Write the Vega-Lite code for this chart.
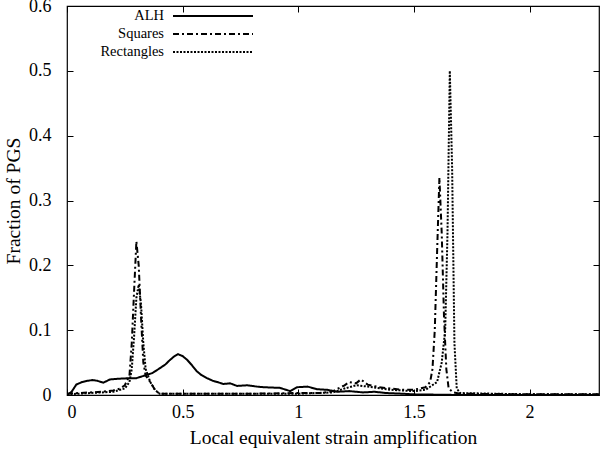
{
  "$schema": "https://vega.github.io/schema/vega-lite/v6.json",
  "width": 532,
  "height": 389,
  "autosize": {"type": "none"},
  "padding": {"left": 67, "top": 6, "right": 1, "bottom": 60},
  "config": {
    "view": {"stroke": "black", "strokeWidth": 1.2},
    "font": "Liberation Serif",
    "axis": {"domain": false, "grid": false, "tickColor": "black", "tickSize": -6, "tickWidth": 1, "labelColor": "black", "titleColor": "black", "labelFont": "Liberation Serif", "titleFont": "Liberation Serif", "labelFontSize": 18, "titleFontSize": 19.5, "titleFontWeight": "normal"}
  },
  "datasets": {
    "main": [
      {"x": 0, "y": 0, "s": "ALH"}, {"x": 0.02, "y": 0.005, "s": "ALH"}, {"x": 0.04, "y": 0.016, "s": "ALH"}, {"x": 0.065, "y": 0.02, "s": "ALH"}, {"x": 0.09, "y": 0.022, "s": "ALH"}, {"x": 0.11, "y": 0.023, "s": "ALH"}, {"x": 0.13, "y": 0.022, "s": "ALH"}, {"x": 0.157, "y": 0.019, "s": "ALH"}, {"x": 0.186, "y": 0.024, "s": "ALH"}, {"x": 0.22, "y": 0.025, "s": "ALH"}, {"x": 0.27, "y": 0.026, "s": "ALH"}, {"x": 0.3, "y": 0.026, "s": "ALH"}, {"x": 0.345, "y": 0.031, "s": "ALH"}, {"x": 0.37, "y": 0.034, "s": "ALH"}, {"x": 0.4, "y": 0.041, "s": "ALH"}, {"x": 0.425, "y": 0.047, "s": "ALH"}, {"x": 0.445, "y": 0.054, "s": "ALH"}, {"x": 0.465, "y": 0.06, "s": "ALH"}, {"x": 0.48, "y": 0.063, "s": "ALH"}, {"x": 0.5, "y": 0.06, "s": "ALH"}, {"x": 0.52, "y": 0.054, "s": "ALH"}, {"x": 0.54, "y": 0.046, "s": "ALH"}, {"x": 0.56, "y": 0.037, "s": "ALH"}, {"x": 0.58, "y": 0.031, "s": "ALH"}, {"x": 0.605, "y": 0.026, "s": "ALH"}, {"x": 0.63, "y": 0.022, "s": "ALH"}, {"x": 0.65, "y": 0.02, "s": "ALH"}, {"x": 0.675, "y": 0.017, "s": "ALH"}, {"x": 0.705, "y": 0.018, "s": "ALH"}, {"x": 0.735, "y": 0.014, "s": "ALH"}, {"x": 0.78, "y": 0.015, "s": "ALH"}, {"x": 0.82, "y": 0.013, "s": "ALH"}, {"x": 0.85, "y": 0.012, "s": "ALH"}, {"x": 0.92, "y": 0.011, "s": "ALH"}, {"x": 0.965, "y": 0.006, "s": "ALH"}, {"x": 0.995, "y": 0.012, "s": "ALH"}, {"x": 1.04, "y": 0.013, "s": "ALH"}, {"x": 1.08, "y": 0.009, "s": "ALH"}, {"x": 1.125, "y": 0.008, "s": "ALH"}, {"x": 1.17, "y": 0.005, "s": "ALH"}, {"x": 1.22, "y": 0.006, "s": "ALH"}, {"x": 1.28, "y": 0.004, "s": "ALH"}, {"x": 1.33, "y": 0.005, "s": "ALH"}, {"x": 1.38, "y": 0.003, "s": "ALH"}, {"x": 1.45, "y": 0.002, "s": "ALH"}, {"x": 1.5, "y": 0.001, "s": "ALH"}, {"x": 1.6, "y": 0.0005, "s": "ALH"}, {"x": 1.7, "y": 0, "s": "ALH"}, {"x": 2.3, "y": 0, "s": "ALH"},

      {"x": 0, "y": 0.002, "s": "Squares"}, {"x": 0.05, "y": 0.003, "s": "Squares"}, {"x": 0.1, "y": 0.004, "s": "Squares"}, {"x": 0.15, "y": 0.005, "s": "Squares"}, {"x": 0.2, "y": 0.007, "s": "Squares"}, {"x": 0.23, "y": 0.01, "s": "Squares"}, {"x": 0.25, "y": 0.015, "s": "Squares"}, {"x": 0.27, "y": 0.03, "s": "Squares"}, {"x": 0.28, "y": 0.08, "s": "Squares"}, {"x": 0.29, "y": 0.16, "s": "Squares"}, {"x": 0.3, "y": 0.237, "s": "Squares"}, {"x": 0.31, "y": 0.2, "s": "Squares"}, {"x": 0.32, "y": 0.12, "s": "Squares"}, {"x": 0.33, "y": 0.05, "s": "Squares"}, {"x": 0.34, "y": 0.03, "s": "Squares"}, {"x": 0.36, "y": 0.02, "s": "Squares"}, {"x": 0.38, "y": 0.008, "s": "Squares"}, {"x": 0.4, "y": 0.002, "s": "Squares"}, {"x": 0.6, "y": 0.002, "s": "Squares"}, {"x": 0.8, "y": 0.002, "s": "Squares"}, {"x": 1.0, "y": 0.003, "s": "Squares"}, {"x": 1.1, "y": 0.003, "s": "Squares"}, {"x": 1.15, "y": 0.006, "s": "Squares"}, {"x": 1.2, "y": 0.015, "s": "Squares"}, {"x": 1.22, "y": 0.02, "s": "Squares"}, {"x": 1.25, "y": 0.018, "s": "Squares"}, {"x": 1.27, "y": 0.024, "s": "Squares"}, {"x": 1.3, "y": 0.016, "s": "Squares"}, {"x": 1.35, "y": 0.012, "s": "Squares"}, {"x": 1.4, "y": 0.01, "s": "Squares"}, {"x": 1.45, "y": 0.008, "s": "Squares"}, {"x": 1.5, "y": 0.008, "s": "Squares"}, {"x": 1.55, "y": 0.012, "s": "Squares"}, {"x": 1.57, "y": 0.02, "s": "Squares"}, {"x": 1.58, "y": 0.04, "s": "Squares"}, {"x": 1.59, "y": 0.1, "s": "Squares"}, {"x": 1.6, "y": 0.22, "s": "Squares"}, {"x": 1.61, "y": 0.335, "s": "Squares"}, {"x": 1.62, "y": 0.25, "s": "Squares"}, {"x": 1.63, "y": 0.12, "s": "Squares"}, {"x": 1.64, "y": 0.04, "s": "Squares"}, {"x": 1.65, "y": 0.01, "s": "Squares"}, {"x": 1.67, "y": 0.004, "s": "Squares"}, {"x": 1.7, "y": 0.002, "s": "Squares"}, {"x": 2.0, "y": 0.001, "s": "Squares"}, {"x": 2.3, "y": 0.001, "s": "Squares"},

      {"x": 0, "y": 0.001, "s": "Rectangles"}, {"x": 0.1, "y": 0.003, "s": "Rectangles"}, {"x": 0.2, "y": 0.005, "s": "Rectangles"}, {"x": 0.25, "y": 0.01, "s": "Rectangles"}, {"x": 0.27, "y": 0.02, "s": "Rectangles"}, {"x": 0.28, "y": 0.04, "s": "Rectangles"}, {"x": 0.29, "y": 0.09, "s": "Rectangles"}, {"x": 0.3, "y": 0.15, "s": "Rectangles"}, {"x": 0.31, "y": 0.17, "s": "Rectangles"}, {"x": 0.32, "y": 0.14, "s": "Rectangles"}, {"x": 0.33, "y": 0.08, "s": "Rectangles"}, {"x": 0.34, "y": 0.04, "s": "Rectangles"}, {"x": 0.36, "y": 0.02, "s": "Rectangles"}, {"x": 0.38, "y": 0.008, "s": "Rectangles"}, {"x": 0.4, "y": 0.002, "s": "Rectangles"}, {"x": 0.7, "y": 0.002, "s": "Rectangles"}, {"x": 1.0, "y": 0.002, "s": "Rectangles"}, {"x": 1.15, "y": 0.004, "s": "Rectangles"}, {"x": 1.2, "y": 0.01, "s": "Rectangles"}, {"x": 1.25, "y": 0.015, "s": "Rectangles"}, {"x": 1.3, "y": 0.013, "s": "Rectangles"}, {"x": 1.4, "y": 0.008, "s": "Rectangles"}, {"x": 1.5, "y": 0.006, "s": "Rectangles"}, {"x": 1.55, "y": 0.008, "s": "Rectangles"}, {"x": 1.6, "y": 0.02, "s": "Rectangles"}, {"x": 1.62, "y": 0.05, "s": "Rectangles"}, {"x": 1.635, "y": 0.1, "s": "Rectangles"}, {"x": 1.645, "y": 0.25, "s": "Rectangles"}, {"x": 1.655, "y": 0.5, "s": "Rectangles"}, {"x": 1.665, "y": 0.35, "s": "Rectangles"}, {"x": 1.675, "y": 0.08, "s": "Rectangles"}, {"x": 1.685, "y": 0.01, "s": "Rectangles"}, {"x": 1.7, "y": 0.003, "s": "Rectangles"}, {"x": 2.0, "y": 0.001, "s": "Rectangles"}, {"x": 2.3, "y": 0.001, "s": "Rectangles"}
    ]
  },
  "data": {"name": "main"},
  "layer": [
    {
      "mark": {"type": "line", "color": "black", "strokeWidth": 2, "clip": true},
      "encoding": {
        "x": {"field": "x", "type": "quantitative", "scale": {"domain": [0, 2.3], "nice": false}, "axis": {"orient": "bottom", "values": [0, 0.5, 1, 1.5, 2], "format": "~g", "title": "Local equivalent strain amplification", "labelPadding": 14, "titlePadding": 7}},
        "y": {"field": "y", "type": "quantitative", "scale": {"domain": [0, 0.6], "nice": false}, "axis": {"orient": "left", "values": [0, 0.1, 0.2, 0.3, 0.4, 0.5, 0.6], "format": "~g", "title": "Fraction of PGS", "labelPadding": 22, "titlePadding": 5}},
        "strokeDash": {"field": "s", "type": "nominal", "scale": {"domain": ["ALH", "Squares", "Rectangles"], "range": [[1, 0], [6, 3, 2, 3], [2, 1.5]]},
          "legend": {"title": null, "orient": "none", "legendX": 135, "legendY": -1, "symbolType": "M-4,0L4,0", "symbolSize": 400, "symbolStrokeWidth": 2, "symbolStrokeColor": "black", "labelAlign": "right", "labelOffset": -60, "labelFontSize": 14.5, "labelFont": "Liberation Serif", "labelColor": "black", "rowPadding": 0}}
      }
    },
    {
      "mark": {"type": "line", "opacity": 0},
      "encoding": {
        "x": {"field": "x", "type": "quantitative", "axis": {"orient": "top", "values": [0, 0.5, 1, 1.5, 2], "labels": false, "title": null}},
        "y": {"field": "y", "type": "quantitative", "axis": {"orient": "right", "values": [0, 0.1, 0.2, 0.3, 0.4, 0.5, 0.6], "labels": false, "title": null}}
      }
    }
  ]
}
